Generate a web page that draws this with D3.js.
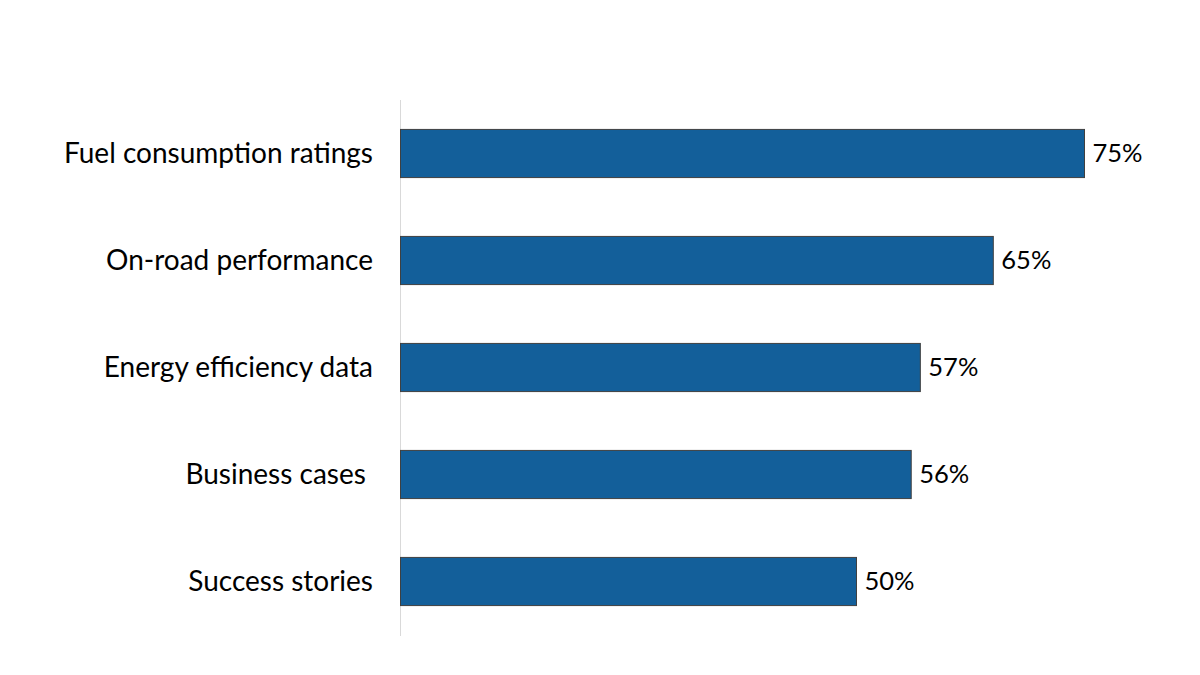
<!DOCTYPE html>
<html>
<head>
<meta charset="utf-8">
<script src="https://cdn.jsdelivr.net/npm/d3@7.9.0/dist/d3.min.js"></script>
<style>
  html, body { margin: 0; padding: 0; background: #fff; }
  svg text { font-family: Lato, "Open Sans", sans-serif; fill: #000; }
</style>
</head>
<body>
<svg id="chart" width="1200" height="675"></svg>
<script>
// 数据
const categories = [
  'Fuel consumption ratings',
  'On-road performance',
  'Energy efficiency data',
  'Business cases ',
  'Success stories',
];
const values = [75, 65, 57, 56, 50];

const svg = d3.select('#chart');

const x = d3.scaleLinear().domain([0, 100]).range([400.5, 1312.5]);
const y = d3.scaleBand().domain(categories).range([100, 635]).paddingInner(0.55).paddingOuter(0.275);

// 纵轴线
svg.append('line')
  .attr('x1', 400.5).attr('x2', 400.5)
  .attr('y1', 100).attr('y2', 636)
  .attr('stroke', '#d9d9d9')
  .attr('stroke-width', 1);

// 条形
svg.selectAll('rect.bar')
  .data(values)
  .join('rect')
  .attr('class', 'bar')
  .attr('x', x(0))
  .attr('y', (d, i) => y(categories[i]))
  .attr('width', (d) => x(d) - x(0))
  .attr('height', y.bandwidth())
  .attr('fill', '#135F9A')
  .attr('stroke', '#404040')
  .attr('stroke-width', 1);

// 数值标签
svg.selectAll('text.val')
  .data(values)
  .join('text')
  .attr('class', 'val')
  .attr('x', (d) => x(d) + 8)
  .attr('y', (d, i) => y(categories[i]) + y.bandwidth() / 2)
  .attr('dy', '0.35em')
  .attr('font-size', 25.5)
  .text((d) => d + '%');

// 类别标签
svg.selectAll('text.cat')
  .data(categories)
  .join('text')
  .attr('class', 'cat')
  .attr('x', 373)
  .attr('y', (d) => y(d) + y.bandwidth() / 2)
  .attr('dy', '0.35em')
  .attr('text-anchor', 'end')
  .attr('font-size', 28)
  .style('white-space', 'pre')
  .text((d) => d);
</script>
</body>
</html>
